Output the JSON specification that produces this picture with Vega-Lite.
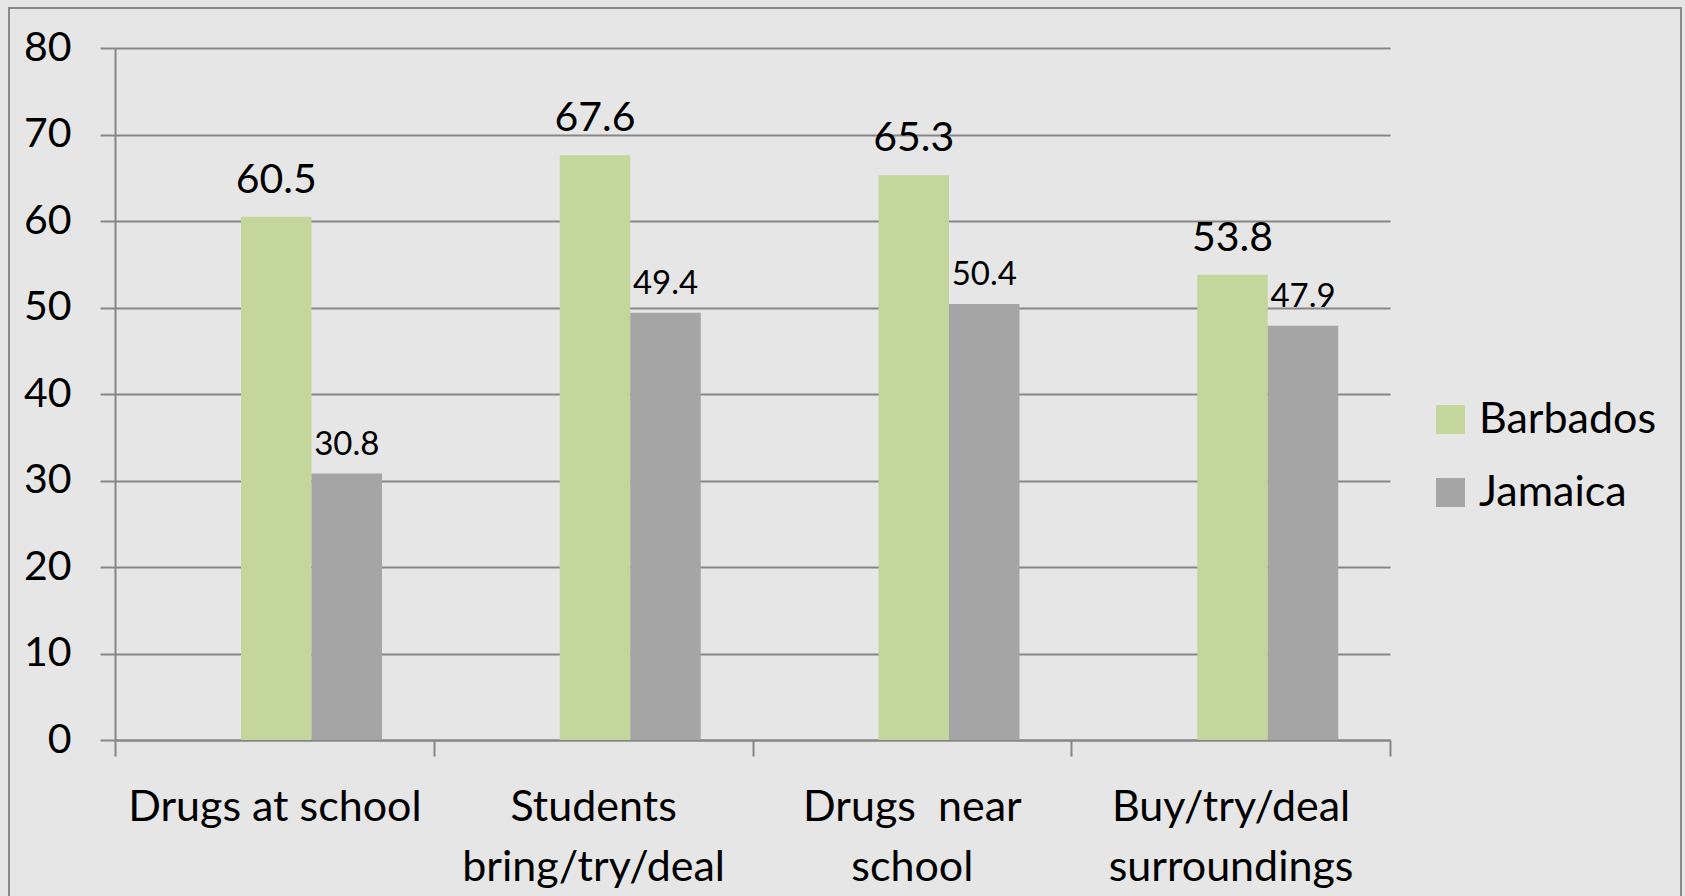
{
  "$schema": "https://vega.github.io/schema/vega-lite/v6.json",
  "width": 1672,
  "height": 892,
  "autosize": {"type": "none"},
  "padding": {"left": 9, "top": 8, "right": 4, "bottom": 0},
  "background": "#e6e6e6",
  "config": {
    "view": {"stroke": "#8a8a8a", "strokeWidth": 2},
    "font": "Lato"
  },
  "data": {
    "values": [
      {"category": "Drugs at school", "series": "Barbados", "value": 60.5},
      {"category": "Drugs at school", "series": "Jamaica", "value": 30.8},
      {"category": "Students bring/try/deal", "series": "Barbados", "value": 67.6},
      {"category": "Students bring/try/deal", "series": "Jamaica", "value": 49.4},
      {"category": "Drugs near school", "series": "Barbados", "value": 65.3},
      {"category": "Drugs near school", "series": "Jamaica", "value": 50.4},
      {"category": "Buy/try/deal surroundings", "series": "Barbados", "value": 53.8},
      {"category": "Buy/try/deal surroundings", "series": "Jamaica", "value": 47.9}
    ]
  },
  "encoding": {
    "x": {
      "field": "category",
      "type": "nominal",
      "sort": ["Drugs at school", "Students bring/try/deal", "Drugs near school", "Buy/try/deal surroundings"],
      "scale": {"range": [106, 1381], "paddingInner": 0, "paddingOuter": 0},
      "axis": {
        "orient": "bottom",
        "offset": -160,
        "title": null,
        "tickBand": "extent",
        "labelAngle": 0,
        "domainColor": "#868686",
        "domainWidth": 2,
        "tickColor": "#868686",
        "tickWidth": 2,
        "tickSize": 16,
        "labelFont": "Lato",
        "labelFontSize": 43,
        "labelColor": "#000000",
        "labelPadding": 30,
        "labelBaseline": "top",
        "labelLineHeight": 60,
        "labelLimit": 500,
        "labelExpr": "datum.value == 'Students bring/try/deal' ? ['Students', 'bring/try/deal'] : datum.value == 'Drugs near school' ? ['Drugs\u00a0 near', 'school'] : datum.value == 'Buy/try/deal surroundings' ? ['Buy/try/deal', 'surroundings'] : datum.value"
      }
    },
    "xOffset": {
      "field": "series",
      "type": "nominal",
      "scale": {"domain": ["Barbados", "Jamaica"], "range": [126, 267], "paddingInner": 0, "paddingOuter": 0}
    },
    "y": {
      "field": "value",
      "type": "quantitative",
      "scale": {"domain": [0, 80], "range": [732, 40], "nice": false},
      "axis": {
        "orient": "left",
        "offset": -106,
        "title": null,
        "values": [0, 10, 20, 30, 40, 50, 60, 70, 80],
        "grid": true,
        "gridColor": "#868686",
        "gridWidth": 2,
        "domainColor": "#868686",
        "domainWidth": 2,
        "tickColor": "#868686",
        "tickWidth": 2,
        "tickSize": 15,
        "labelFont": "Lato",
        "labelFontSize": 41,
        "labelColor": "#000000",
        "labelPadding": 29
      }
    }
  },
  "layer": [
    {
      "mark": {"type": "bar"},
      "encoding": {
        "color": {
          "field": "series",
          "type": "nominal",
          "scale": {"domain": ["Barbados", "Jamaica"], "range": ["#C3D69B", "#A5A5A5"]},
          "legend": {
            "orient": "none",
            "legendX": 1420,
            "legendY": 390,
            "title": null,
            "symbolType": "square",
            "symbolSize": 841,
            "symbolStrokeWidth": 0,
            "labelFont": "Lato",
            "labelFontSize": 43,
            "labelColor": "#000000",
            "labelOffset": 7,
            "rowPadding": 29,
            "labelLimit": 500,
            "padding": 0
          }
        }
      }
    },
    {
      "transform": [{"filter": "datum.series == 'Barbados'"}],
      "mark": {"type": "text", "baseline": "alphabetic", "dy": -24, "fontSize": 41, "color": "#000000"},
      "encoding": {"text": {"field": "value", "type": "quantitative"}}
    },
    {
      "transform": [{"filter": "datum.series == 'Jamaica'"}],
      "mark": {"type": "text", "baseline": "alphabetic", "dy": -19, "fontSize": 33, "color": "#000000"},
      "encoding": {"text": {"field": "value", "type": "quantitative"}}
    }
  ]
}
